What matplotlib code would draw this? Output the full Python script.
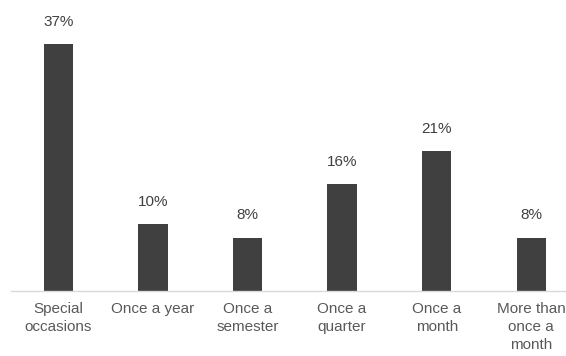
import matplotlib.pyplot as plt

plt.rcParams['font.family'] = ['Liberation Sans', 'DejaVu Sans']

# Frecuencia de compra
categorias = ['Special\noccasions', 'Once a year', 'Once a\nsemester',
              'Once a\nquarter', 'Once a\nmonth', 'More than\nonce a\nmonth']
valores = [37, 10, 8, 16, 21, 8]

fig = plt.figure(figsize=(5.66, 3.56), dpi=100)
ax = fig.add_axes([11 / 566, 65 / 356, 567.6 / 566, 291 / 356])

x = range(len(categorias))
barras = ax.bar(x, valores, width=0.31, color='#404040')

# Etiquetas de porcentaje encima de cada barra
for b, v in zip(barras, valores):
    ax.annotate(f'{v}%', (b.get_x() + b.get_width() / 2, v),
                xytext=(0, 11), textcoords='offset points',
                ha='center', va='bottom', fontsize=11, color='#404040')

ax.set_xlim(-0.5, 5.5)
ax.set_ylim(0, 43.6)
ax.set_xticks(list(x))
ax.set_xticklabels(categorias, fontsize=11, color='#595959', linespacing=1.35)
ax.tick_params(axis='x', length=0, pad=8)
ax.set_yticks([])

for lado in ['top', 'right', 'left']:
    ax.spines[lado].set_visible(False)
ax.spines['bottom'].set_color('#d9d9d9')
ax.spines['bottom'].set_linewidth(1)

fig.savefig('out.png', dpi=100)
